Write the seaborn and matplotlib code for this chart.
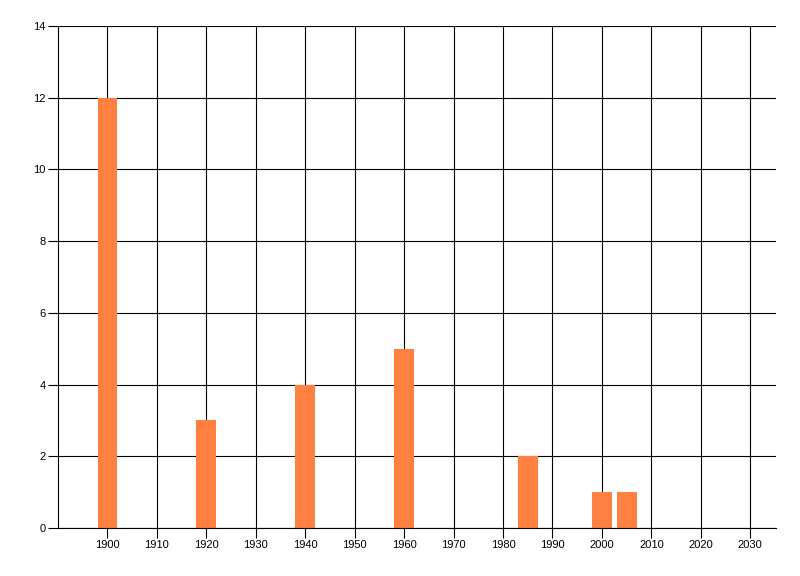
import matplotlib
import pandas as pd
import seaborn as sns
from matplotlib import pyplot as plt

matplotlib.use("Agg")

# values
years = [1900, 1920, 1940, 1960, 1985, 2000, 2005]
counts = [12, 3, 4, 5, 2, 1, 1]
x_ticks = list(range(1900, 2031, 10))
y_ticks = list(range(0, 15, 2))

df = pd.DataFrame({"year": years, "count": counts})

sns.set_style("white")
plt.rcParams["font.family"] = ["Liberation Sans", "DejaVu Sans"]

fig = plt.figure(figsize=(8, 5.76), dpi=100)
ax = fig.add_axes([58 / 800, 1 - 528 / 576, (776 - 58) / 800, (528 - 26) / 576])

sns.barplot(data=df, x="year", y="count", native_scale=True, color="#FF8040",
            saturation=1, width=0.8, linewidth=0, edgecolor="none", ax=ax)

ax.set_xlim(1890, 2035.2)
ax.set_ylim(0, 14)
ax.set_xticks(x_ticks)
ax.set_yticks(y_ticks)
ax.set_xlabel("")
ax.set_ylabel("")

ax.set_axisbelow(True)
ax.grid(True, color="black", linewidth=0.8)
for side in ("top", "right"):
    ax.spines[side].set_visible(False)
for side in ("left", "bottom"):
    ax.spines[side].set_color("black")
    ax.spines[side].set_linewidth(0.8)

ax.tick_params(axis="both", direction="out", length=7, width=0.8, color="black",
               labelsize=8, labelcolor="black", pad=2, bottom=True, left=True)

fig.savefig("out.png", dpi=100)
